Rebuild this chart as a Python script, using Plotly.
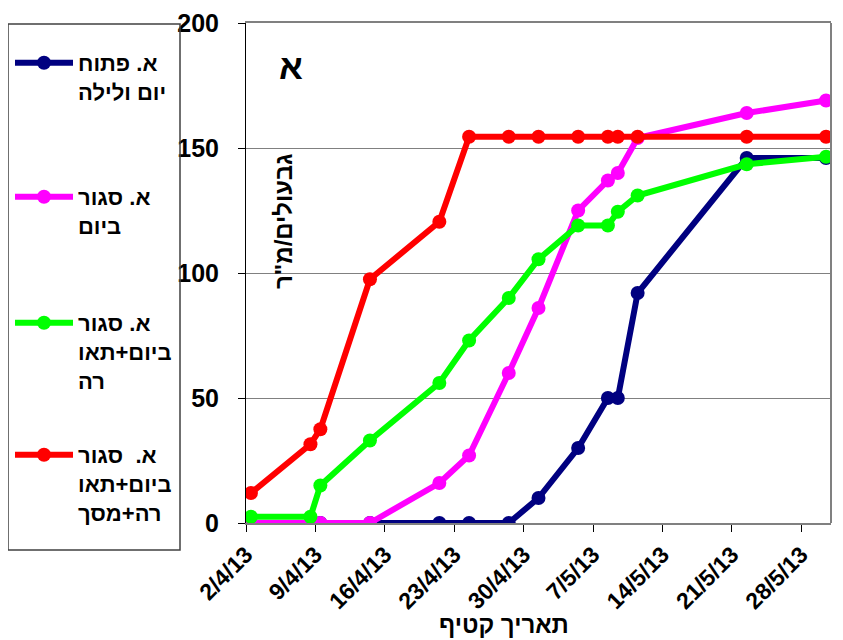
import pandas as pd
import plotly.graph_objects as go

# ---- data ----
dates = ["2013-04-02", "2013-04-08", "2013-04-09", "2013-04-14", "2013-04-21",
         "2013-04-24", "2013-04-28", "2013-05-01", "2013-05-05", "2013-05-08",
         "2013-05-09", "2013-05-11", "2013-05-22", "2013-05-30"]

open_day_night = [0, 0, 0, 0, 0, 0, 0, 10, 30, 50, 50, 92, 146, 146]
closed_day = [0, 0, 0, 0, 16, 27, 60, 86, 125, 137, 140, 154, 164, 169]
closed_day_light = [2.5, 2.5, 15, 33, 56, 73, 90, 105.5, 119, 119, 124.5, 131, 143.5, 146.5]
closed_day_light_net = [12, 31.5, 37.5, 97.5, 120.5, 154.5, 154.5, 154.5, 154.5,
                        154.5, 154.5, 154.5, 154.5, 154.5]

series_names = [
    "א. פתוח<br>יום ולילה",
    "א. סגור<br>ביום",
    "א. סגור<br>ביום+תאו<br>רה",
    "א.  סגור<br>ביום+תאו<br>רה+מסך",
]
series_colors = ["#000080", "#FF00FF", "#00FF00", "#FF0000"]

tick_dates = ["2013-04-02", "2013-04-09", "2013-04-16", "2013-04-23", "2013-04-30",
              "2013-05-07", "2013-05-14", "2013-05-21", "2013-05-28"]
tick_labels = ["2/4/13", "9/4/13", "16/4/13", "23/4/13", "30/4/13",
               "7/5/13", "14/5/13", "21/5/13", "28/5/13"]
y_ticks = [0, 50, 100, 150, 200]

x_title = "תאריך קטיף"
y_title = 'גבעולים/מ"ר'
panel_label = "א"

# ---- figure ----
FONT = "Arial, Liberation Sans, DejaVu Sans, sans-serif"
W, H = 843, 640
OFF = 8  # page body margin
# target plot area in page pixels: x 246..831, y 23..523
L = 246 - OFF
R = W - (831 - OFF)
T = 23 - OFF
B = H - (523 - OFF)
pw, ph = W - L - R, H - T - B


def px_x(px):
    return (px - OFF - L) / pw


def px_y(py):
    return (H - B - (py - OFF)) / ph


def bold(s):
    return "<b>" + s.replace("<br>", "</b><br><b>") + "</b>"


def bfont(size):
    return dict(family=FONT, size=size, color="black", weight="bold")


half_day = pd.Timedelta(hours=12)
tickvals = [pd.Timestamp(d) - half_day for d in tick_dates]
x_range = [pd.Timestamp("2013-04-02") - half_day, pd.Timestamp("2013-05-31") - half_day]

fig = go.Figure()
all_series = [open_day_night, closed_day, closed_day_light, closed_day_light_net]
legend_ids = ["legend", "legend2", "legend3", "legend4"]
for vals, name, col, lg in zip(all_series, series_names, series_colors, legend_ids):
    fig.add_trace(go.Scatter(
        x=pd.to_datetime(dates), y=vals, name=bold(name), mode="lines+markers",
        line=dict(color=col, width=6),
        marker=dict(color=col, size=14),
        legend=lg,
    ))

legend_tops = [42, 176, 302, 434]
leg_common = dict(
    x=px_x(10), xanchor="left", yanchor="top",
    bgcolor="rgba(0,0,0,0)", borderwidth=0,
    font=bfont(22),
    valign="top", itemwidth=58, itemclick=False, itemdoubleclick=False,
)
layout_legends = {}
for lg, top in zip(legend_ids, legend_tops):
    layout_legends[lg] = dict(leg_common, y=px_y(top))

fig.update_layout(
    width=W, height=H,
    margin=dict(l=L, r=R, t=T, b=B, pad=0, autoexpand=False),
    paper_bgcolor="white", plot_bgcolor="white",
    font=dict(family=FONT, color="black"),
    showlegend=True,
    **layout_legends,
    xaxis=dict(
        type="date", range=x_range, automargin=False,
        tickmode="array", tickvals=tickvals, ticktext=[bold(t) for t in tick_labels],
        tickangle=-45, tickfont=bfont(23),
        ticks="outside", ticklen=7, tickcolor="#000000", tickwidth=1,
        showgrid=False, zeroline=False,
        showline=True, linecolor="#808080", linewidth=2, mirror=True,
    ),
    yaxis=dict(
        range=[0, 200], tickmode="array", tickvals=y_ticks, automargin=False,
        ticktext=[bold(str(v)) for v in y_ticks],
        tickfont=bfont(25),
        ticks="outside", ticklen=7, tickcolor="#000000", tickwidth=1,
        ticklabelstandoff=14,
        showgrid=True, gridcolor="#808080", gridwidth=1,
        zeroline=False,
        showline=True, linecolor="#000000", linewidth=1,
    ),
    shapes=[
        dict(type="line", xref="paper", yref="paper", x0=1, x1=1, y0=0, y1=1,
             line=dict(color="#808080", width=2)),
        dict(type="rect", xref="paper", yref="paper",
             x0=px_x(8), x1=px_x(180), y0=px_y(550), y1=px_y(24),
             line=dict(color="#404040", width=1.5)),
        dict(type="line", xref="paper", yref="paper",
             x0=px_x(1), x1=px_x(1), y0=px_y(513), y1=px_y(24),
             line=dict(color="#c8c8c8", width=1)),
    ],
    annotations=[
        dict(text=bold(panel_label), xref="paper", yref="paper", x=px_x(291), y=px_y(67),
             xanchor="center", yanchor="middle",
             showarrow=False, font=bfont(35)),
        dict(text=bold(y_title), xref="paper", yref="paper", x=px_x(283), y=px_y(221),
             xanchor="center", yanchor="middle",
             textangle=-90, showarrow=False, font=bfont(24)),
        dict(text=bold(x_title), xref="paper", yref="paper", x=px_x(504), y=px_y(624),
             xanchor="center", yanchor="middle",
             showarrow=False, font=bfont(24)),
    ],
)

fig.write_html("out.html")
